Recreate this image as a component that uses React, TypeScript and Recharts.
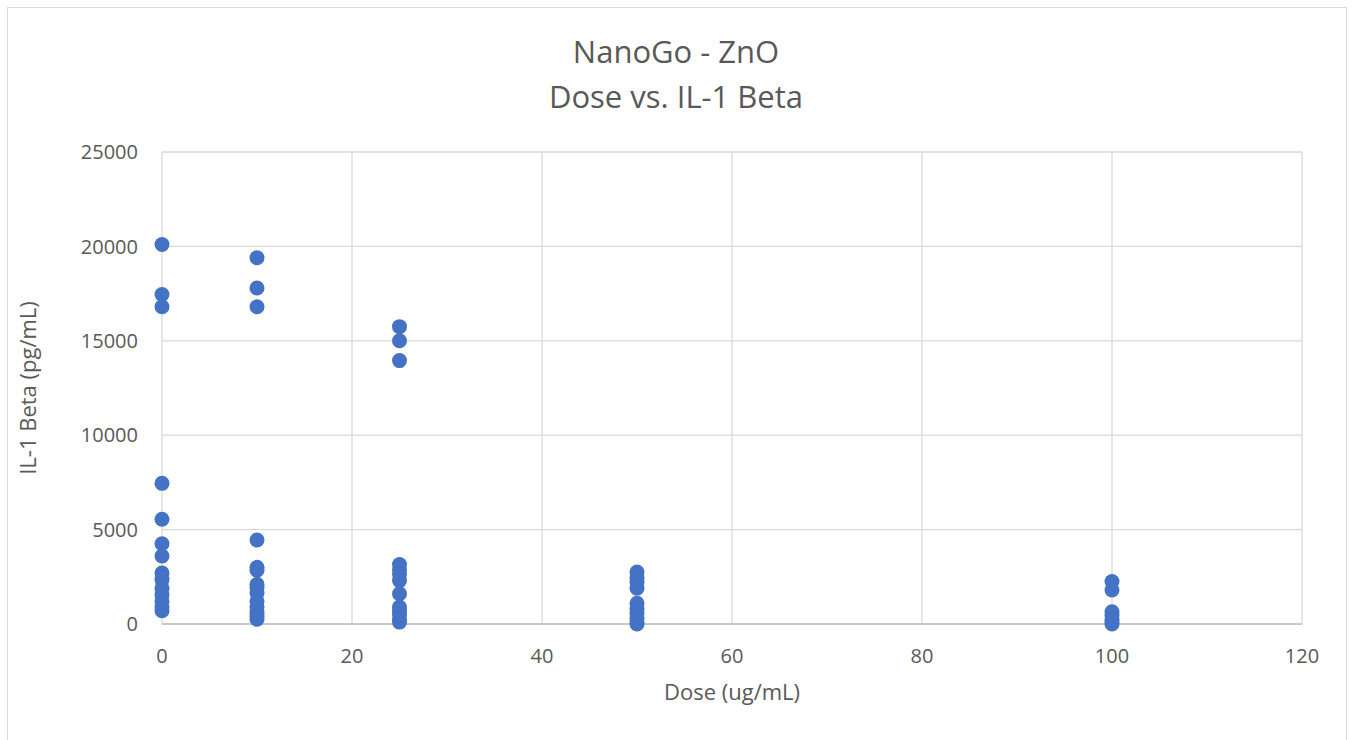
import { ScatterChart, Scatter, XAxis, YAxis, CartesianGrid, Label } from 'recharts'

// IL-1 Beta readings (pg/mL), one array per dose (ug/mL)
const dose0 = [20100, 17450, 16800, 7450, 5550, 4250, 3600, 2700, 2350, 1900, 1550, 1200, 900, 700]
const dose10 = [19400, 17800, 16800, 4450, 3000, 2850, 2100, 1950, 1650, 1200, 900, 600, 400, 250]
const dose25 = [15750, 15000, 13950, 3150, 2900, 2650, 2300, 1600, 900, 700, 500, 250, 100]
const dose50 = [2750, 2450, 2200, 1900, 1100, 800, 550, 300, 100, 0]
const dose100 = [2250, 1800, 650, 450, 250, 100, 0]

const doses = [0, 10, 25, 50, 100]
const readings = [dose0, dose10, dose25, dose50, dose100]

const xTicks = [0, 20, 40, 60, 80, 100, 120]
const yTicks = [0, 5000, 10000, 15000, 20000, 25000]

const data = doses.flatMap((d, i) => readings[i].map((v) => ({ dose: d, il1b: v })))

const font = '"Open Sans", "Liberation Sans", sans-serif'
const tickStyle = { fill: '#595959', fontSize: 20, fontFamily: font }
const labelStyle = { fill: '#595959', fontSize: 22, fontFamily: font }

const Dot = (props: any) => <circle cx={props.cx} cy={props.cy} r={7.5} fill="#4472C4" />

export default function App() {
  return (
    <div style={{ position: 'absolute', left: 0, top: 0, width: 1352, height: 740, background: '#fff', overflow: 'hidden' }}>
      <div style={{ position: 'absolute', left: 7, top: 7, width: 1338, height: 760, border: '1px solid #d9d9d9' }} />
      <div style={{ position: 'absolute', left: 0, width: 1352, top: 29, textAlign: 'center', fontFamily: font, fontSize: 31, color: '#595959', lineHeight: '45px' }}>
        <div>NanoGo - ZnO</div>
        <div>Dose vs. IL-1 Beta</div>
      </div>
      <div style={{ position: 'absolute', left: 0, top: 0 }}>
        <ScatterChart width={1352} height={740} margin={{ top: 152, right: 50, bottom: 86, left: 82 }}>
          <CartesianGrid stroke="#d9d9d9" strokeWidth={1.3} horizontalValues={yTicks} verticalValues={xTicks} />
          <XAxis type="number" dataKey="dose" domain={[0, 120]} ticks={xTicks} height={30}
            axisLine={{ stroke: '#bfbfbf', strokeWidth: 1.3 }} tickLine={false} tickMargin={19} tick={tickStyle}>
            <Label value="Dose (ug/mL)" position="insideBottom" offset={-46} style={labelStyle} />
          </XAxis>
          <YAxis type="number" dataKey="il1b" domain={[0, 25000]} ticks={yTicks} width={80}
            axisLine={false} tickLine={false} tickMargin={18} tick={tickStyle}>
            <Label value="IL-1 Beta (pg/mL)" angle={-90} position="insideLeft" offset={-54}
              style={{ ...labelStyle, textAnchor: 'middle' }} />
          </YAxis>
          <Scatter data={data} shape={Dot} isAnimationActive={false} />
        </ScatterChart>
      </div>
    </div>
  )
}
